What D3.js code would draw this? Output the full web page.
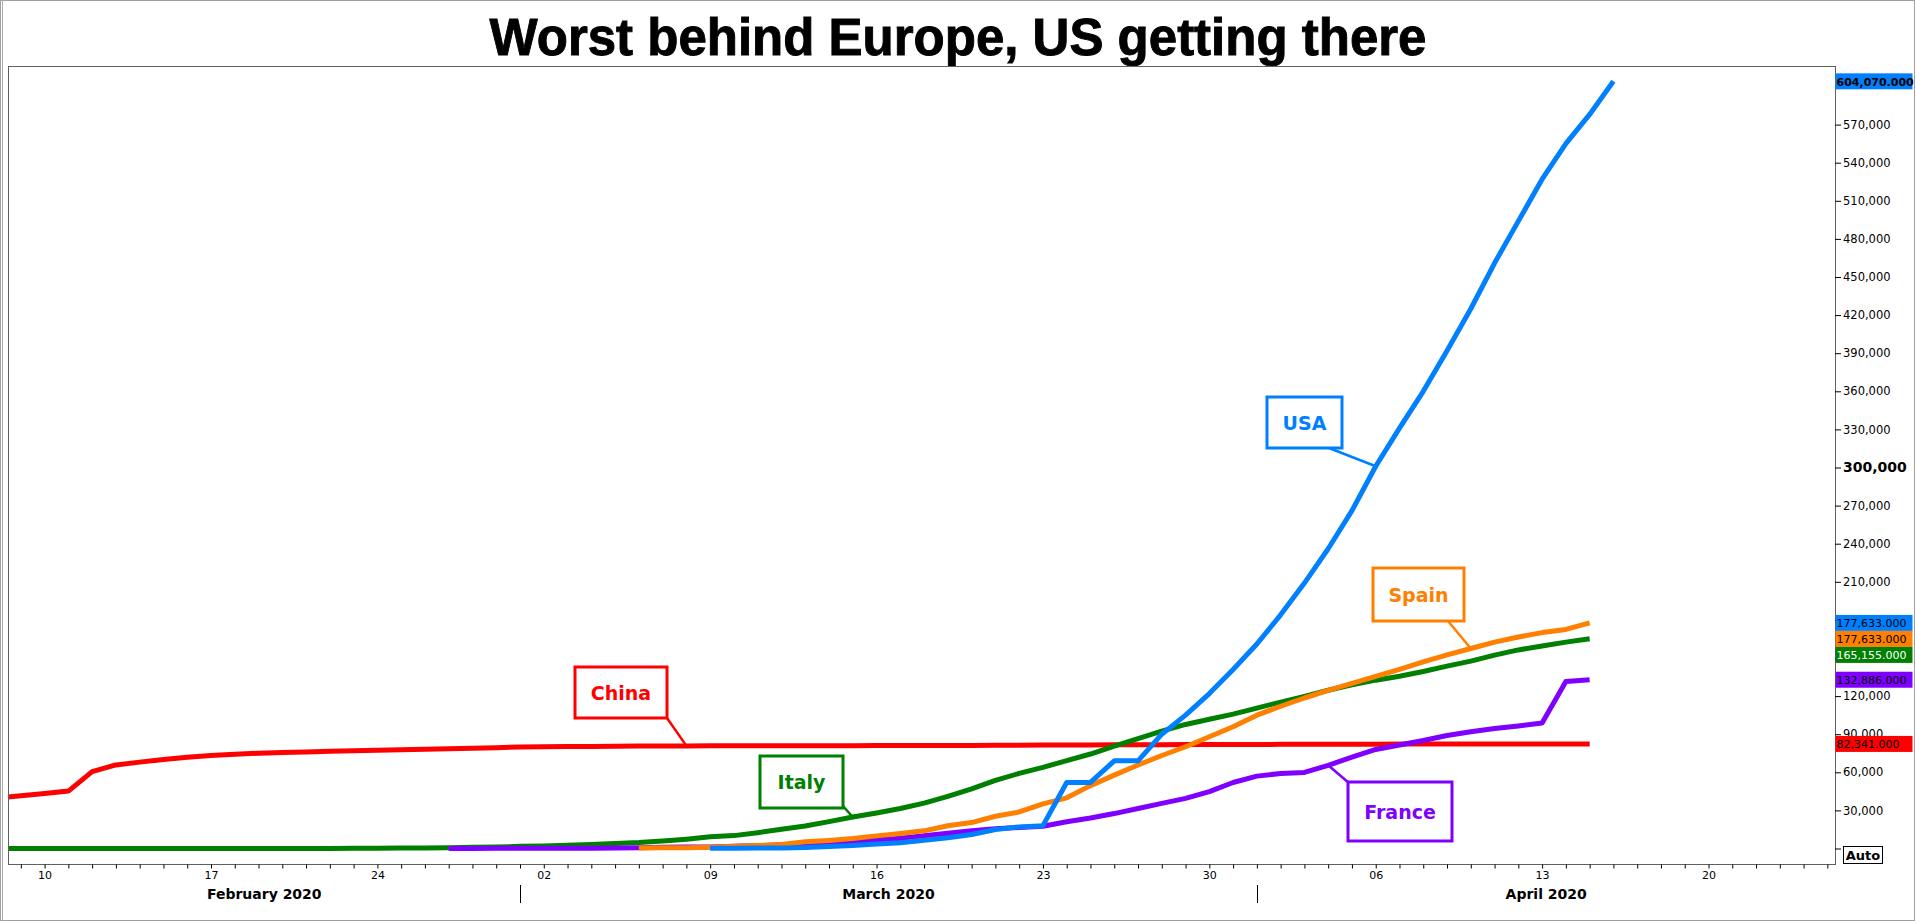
<!DOCTYPE html>
<html><head><meta charset="utf-8">
<script src="https://cdn.jsdelivr.net/npm/d3@7"></script>
<style>
html,body{margin:0;padding:0;background:#fff;overflow:hidden}
svg{display:block}
</style></head><body>
<svg id="chart" width="1916" height="923"></svg>
<script>
// ---------------- DATA ----------------
const titleText = "Worst behind Europe, US getting there";

const chinaStart = "2020-02-08";
const chinaValues = [
  39500, 41600, 43300, 45200, 60500, 65800, 68000, 70000, 71800, 73300,
  74300, 75000, 75500, 76000, 76600, 77000, 77300, 77800, 78200, 78600,
  78900, 79400, 79900, 80100, 80300, 80400, 80500, 80700, 80800, 80800,
  80900, 80900, 80900, 80900, 81000, 81000, 81000, 81100, 81100, 81100,
  81200, 81200, 81300, 81300, 81400, 81500, 81500, 81600, 81600, 81700,
  81800, 81800, 81900, 81900, 82000, 82000, 82100, 82100, 82100, 82200,
  82200, 82200, 82300, 82300, 82300, 82300, 82300, 82341
];

const italyStart = "2020-02-08";
const italyValues = [
  3, 3, 3, 3, 3, 3, 3, 3, 3, 3,
  3, 3, 3, 20, 62, 155, 229, 322, 453, 655,
  888, 1128, 1694, 2036, 2502, 3089, 3858, 4636, 5883, 7375,
  9172, 10149, 12462, 15113, 17660, 21157, 24747, 27980, 31506, 35713,
  41035, 47021, 53578, 59138, 63927, 69176, 74386, 80589, 86498, 92472,
  97689, 101739, 105792, 110574, 115242, 119827, 124632, 128948, 132547, 135586,
  139422, 143626, 147577, 152271, 156363, 159516, 162488, 165155
];

const franceStart = "2020-02-27";
const franceValues = [
  38, 57, 100, 130, 191, 204, 288, 380, 656, 957,
  1136, 1219, 1794, 2293, 2900, 3681, 4500, 5500, 6700, 8000,
  10000, 12000, 14000, 15500, 16500, 17500, 21000, 24000, 27500, 31500,
  35500, 39500, 44800, 52000, 57000, 59100, 59900, 65500, 72000, 78000,
  81500, 85000, 89000, 92000, 94500, 96500, 98800, 131500, 132886
];

const spainStart = "2020-03-06";
const spainValues = [
  400, 500, 673, 1073, 1695, 2277, 3146, 5232, 6391, 7798,
  9942, 11748, 13910, 17963, 20410, 25374, 28768, 35136, 39885, 49515,
  57786, 65719, 73235, 80110, 87956, 95923, 105000, 112000, 118500, 124500,
  130000, 135500, 141000, 147000, 152500, 157500, 162500, 166500, 170000, 172500, 177633
];

const usaStart = "2020-03-09";
const usaValues = [
  100, 200, 300, 450, 700, 1500, 2300, 3500, 4500, 6500,
  8500, 11000, 15000, 17000, 18000, 52000, 52000, 69000, 69000, 90000,
  105000, 122000, 141000, 161000, 184000, 209000, 236000, 266000, 301000, 331000,
  360000, 392000, 425000, 461000, 494000, 527000, 555000, 578000, 604070
];

const seriesNames = ["China", "Italy", "France", "Spain", "USA"];
const yTickValues = [0, 30000, 60000, 90000, 120000, 150000, 180000, 210000, 240000, 270000,
  300000, 330000, 360000, 390000, 420000, 450000, 480000, 510000, 540000, 570000];
// tick labels hidden behind the value flags in the reference
const yHiddenLabels = [0, 150000, 180000];
const xLabelDates = ["2020-02-10","2020-02-17","2020-02-24","2020-03-02","2020-03-09","2020-03-16",
  "2020-03-23","2020-03-30","2020-04-06","2020-04-13","2020-04-20"];
const monthLabels = ["February 2020", "March 2020", "April 2020"];
const monthStarts = ["2020-02-01", "2020-03-01", "2020-04-01", "2020-05-01"];
// right-axis value flags
const flagValues = [604070, 177633, 177633, 165155, 132886, 82341];
const flagSeries = ["USA", "USA", "Spain", "Italy", "France", "China"];

// ---------------- STYLE / LAYOUT ----------------
const colors = { China: "#ff0000", Italy: "#008000", France: "#8000ff", Spain: "#ff8000", USA: "#0080ff" };
const flagTextColor = { China: "#000", Italy: "#fff", France: "#000", Spain: "#000", USA: "#000" };
const plot = { left: 8.5, top: 66.5, right: 1835.5, bottom: 864.5 };
const callouts = [
  { name: "China",  box: [575, 667, 92, 51],  from: [667, 718],  at: "2020-03-08" },
  { name: "Italy",  box: [760, 756, 83, 52],  from: [843, 806],  at: "2020-03-15" },
  { name: "USA",    box: [1267, 397, 75, 51], from: [1329, 448], at: "2020-04-06" },
  { name: "Spain",  box: [1373, 568, 91, 53], from: [1448, 621], at: "2020-04-10" },
  { name: "France", box: [1348, 782, 104, 59], from: [1349, 783], at: "2020-04-04" }
];

// ---------------- BUILD ----------------
const parse = d3.utcParse("%Y-%m-%d");
function build(start, values) {
  const s = parse(start);
  return values.map((v, i) => ({ date: d3.utcDay.offset(s, i), value: v }));
}
const series = {
  China: build(chinaStart, chinaValues),
  Italy: build(italyStart, italyValues),
  France: build(franceStart, franceValues),
  Spain: build(spainStart, spainValues),
  USA: build(usaStart, usaValues)
};

const svg = d3.select("#chart");
const x = d3.scaleUtc().domain([parse("2020-02-10"), parse("2020-04-20")]).range([44.6, 1708.5]);
const y = d3.scaleLinear().domain([0, 570000]).range([848.5, 124.6]);

// outer frame
svg.append("rect").attr("x", 0.5).attr("y", 0.5).attr("width", 1914).attr("height", 920)
  .attr("fill", "#fff").attr("stroke", "#a0a0a0");
svg.append("line").attr("x1", 2.5).attr("x2", 2.5).attr("y1", 0).attr("y2", 921).attr("stroke", "#b0b0b0");

// title
svg.append("text").attr("x", 958).attr("y", 55).attr("text-anchor", "middle")
  .style("font-family", "'Liberation Sans', Arial, sans-serif").style("font-weight", "bold")
  .style("font-size", "51px").attr("fill", "#000").attr("stroke", "#000").attr("stroke-width", 0.9)
  .text(titleText);

// clip
svg.append("clipPath").attr("id", "clip").append("rect")
  .attr("x", plot.left).attr("y", plot.top).attr("width", plot.right - plot.left).attr("height", plot.bottom - plot.top);

// lines
const line = d3.line().x(d => x(d.date)).y(d => y(d.value));
const g = svg.append("g").attr("clip-path", "url(#clip)");
seriesNames.forEach(n => {
  g.append("path").datum(series[n]).attr("d", line).attr("fill", "none")
    .attr("stroke", colors[n]).attr("stroke-width", 5).attr("stroke-linejoin", "round");
});

// callouts
callouts.forEach(c => {
  const pt = series[c.name].find(d => +d.date === +parse(c.at));
  svg.append("line").attr("x1", c.from[0]).attr("y1", c.from[1])
    .attr("x2", x(pt.date)).attr("y2", y(pt.value))
    .attr("stroke", colors[c.name]).attr("stroke-width", 2.5);
  svg.append("rect").attr("x", c.box[0]).attr("y", c.box[1]).attr("width", c.box[2]).attr("height", c.box[3])
    .attr("fill", "#fff").attr("stroke", colors[c.name]).attr("stroke-width", 3);
  svg.append("text").attr("x", c.box[0] + c.box[2] / 2).attr("y", c.box[1] + c.box[3] / 2 + 7)
    .attr("text-anchor", "middle").style("font-family", "'DejaVu Sans', sans-serif")
    .style("font-weight", "bold").style("font-size", "19px").attr("fill", colors[c.name]).text(c.name);
});

// plot border
svg.append("rect").attr("x", plot.left).attr("y", plot.top)
  .attr("width", plot.right - plot.left).attr("height", plot.bottom - plot.top)
  .attr("fill", "none").attr("stroke", "#606060").attr("stroke-width", 1);

// x axis ticks
const dayTicks = d3.utcDay.range(parse("2020-02-09"), parse("2020-04-26"));
const labelSet = new Set(xLabelDates.map(s => +parse(s)));
const xAxis = d3.axisBottom(x).tickValues(dayTicks).tickSize(4).tickPadding(3)
  .tickFormat(d => labelSet.has(+d) ? d3.utcFormat("%d")(d) : "");
const xg = svg.append("g").attr("transform", `translate(0,${plot.bottom})`).call(xAxis);
xg.select(".domain").remove();
xg.selectAll(".tick line").attr("stroke", "#000");
xg.selectAll(".tick text").style("font-family", "'DejaVu Sans', sans-serif").style("font-size", "11px").attr("fill", "#000");

// month labels & separators
monthLabels.forEach((m, i) => {
  const a = Math.max(x(parse(monthStarts[i])), plot.left);
  const b = Math.min(x(parse(monthStarts[i + 1])), plot.right);
  svg.append("text").attr("x", (a + b) / 2).attr("y", 898.5).attr("text-anchor", "middle")
    .style("font-family", "'DejaVu Sans', sans-serif").style("font-weight", "bold").style("font-size", "14px")
    .attr("fill", "#000").text(m);
  if (i > 0) {
    const xs = Math.round(x(parse(monthStarts[i]))) + 0.5;
    svg.append("line").attr("x1", xs).attr("x2", xs).attr("y1", 885).attr("y2", 903).attr("stroke", "#000");
  }
});

// y axis (right)
const fmt = d3.format(",");
const yAxis = d3.axisRight(y).tickValues(yTickValues).tickSize(6).tickPadding(2)
  .tickFormat(d => yHiddenLabels.includes(d) ? "" : fmt(d));
const yg = svg.append("g").attr("transform", `translate(${plot.right - 0.5},0)`).call(yAxis);
yg.select(".domain").remove();
yg.selectAll(".tick line").attr("stroke", "#000");
yg.selectAll(".tick text").style("font-family", "'DejaVu Sans', sans-serif").style("font-size", "11.5px").attr("fill", "#000");
yg.selectAll(".tick text").filter(d => d === 300000).style("font-weight", "bold").style("font-size", "14px");

// Auto box
svg.append("rect").attr("x", 1843.5).attr("y", 846.5).attr("width", 39).attr("height", 17)
  .attr("fill", "#fff").attr("stroke", "#000");
svg.append("text").attr("x", 1863).attr("y", 860).attr("text-anchor", "middle")
  .style("font-family", "'DejaVu Sans', sans-serif").style("font-weight", "bold").style("font-size", "13px")
  .attr("fill", "#000").text("Auto");

// value flags with de-overlap
const flagH = 16;
const flags = flagValues.map((v, i) => ({ v, s: flagSeries[i], i, yc: y(v) }));
flags.sort((a, b) => a.yc - b.yc || a.i - b.i);
let lastBottom = -Infinity;
flags.forEach(f => {
  let top = f.yc - flagH / 2;
  if (top < lastBottom) top = lastBottom;
  f.top = top; lastBottom = top + flagH;
});
const fmt3 = d3.format(",.3f");
flags.forEach(f => {
  svg.append("rect").attr("x", plot.right).attr("y", f.top).attr("width", 77).attr("height", flagH)
    .attr("fill", colors[f.s]);
  svg.append("text").attr("x", plot.right + 1).attr("y", f.top + 12.5)
    .style("font-family", "'DejaVu Sans', sans-serif").style("font-size", "11px")
    .style("font-weight", f.i === 0 ? "bold" : "normal")
    .attr("fill", flagTextColor[f.s]).text(fmt3(f.v));
});
</script>
</body></html>
